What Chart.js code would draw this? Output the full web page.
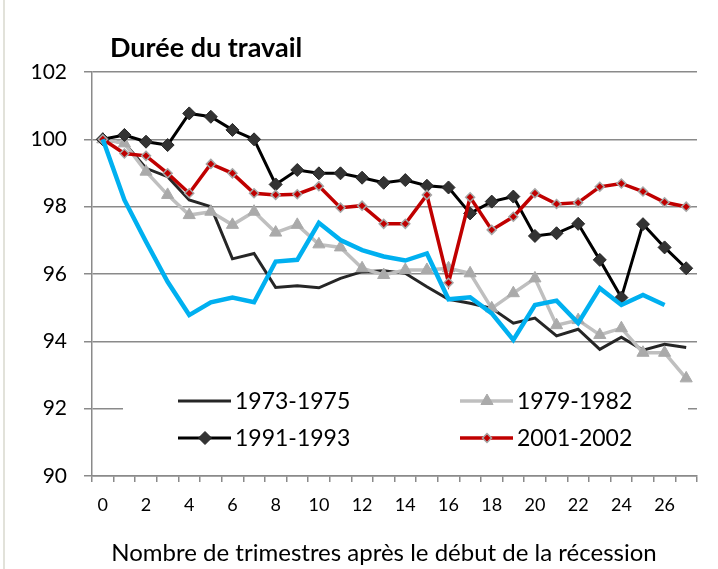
<!DOCTYPE html>
<html>
<head>
<meta charset="utf-8">
<script src="https://cdn.jsdelivr.net/npm/chart.js@4.4.1/dist/chart.umd.min.js"></script>
<style>
  body { margin: 0; background: #fff; }
  #wrap { width: 718px; height: 569px; position: relative; }
</style>
</head>
<body>
<div id="wrap"><canvas id="chart" width="718" height="569"></canvas></div>
<script>
// trimestres depuis le debut de la recession
const quarters = [0, 1, 2, 3, 4, 5, 6, 7, 8, 9, 10, 11, 12, 13, 14, 15, 16, 17, 18, 19, 20, 21, 22, 23, 24, 25, 26, 27]

// duree du travail, indice 100 au debut de chaque recession
const r1973 = [100, 99.89, 99.14, 98.89, 98.2, 98.0, 96.45, 96.61, 95.6, 95.65, 95.59, 95.87, 96.07, 96.1,
  96.02, 95.62, 95.25, 95.13, 94.98, 94.54, 94.69, 94.16, 94.36, 93.76, 94.12, 93.74, 93.91, 93.82]
const r1979 = [100, 99.88, 99.04, 98.35, 97.75, 97.85, 97.46, 97.85, 97.23, 97.46, 96.88, 96.79, 96.17, 95.97,
  96.12, 96.12, 96.17, 96.02, 94.98, 95.43, 95.87, 94.48, 94.63, 94.19, 94.39, 93.66, 93.66, 92.9]
const r1991 = [100, 100.13, 99.93, 99.83, 100.77, 100.67, 100.28, 100.0, 98.66, 99.09, 98.99, 98.99, 98.86, 98.71,
  98.79, 98.62, 98.57, 97.8, 98.15, 98.3, 97.13, 97.21, 97.49, 96.42, 95.3, 97.48, 96.79, 96.17]
const r2001 = [100, 99.58, 99.51, 98.99, 98.4, 99.27, 98.99, 98.4, 98.35, 98.37, 98.61, 97.97, 98.03, 97.49,
  97.49, 98.35, 95.74, 98.28, 97.31, 97.7, 98.4, 98.08, 98.12, 98.59, 98.69, 98.45, 98.13, 98.0]
const r2008 = [100, 98.2, 96.96, 95.77, 94.78, 95.16, 95.3, 95.16, 96.37, 96.42, 97.52, 97.01, 96.71, 96.52,
  96.4, 96.61, 95.25, 95.31, 94.83, 94.04, 95.08, 95.21, 94.54, 95.58, 95.08, 95.38, 95.08, null]

const FONT = 'Lato'
const GRID = '#8a8a8a'

// titre, titre de l'axe x et legende en deux colonnes
const decorations = {
  id: 'decorations',
  beforeDraw(chart) {
    const ctx = chart.ctx
    ctx.save()
    ctx.strokeStyle = '#e2e2da'
    ctx.lineWidth = 2
    ctx.beginPath()
    ctx.moveTo(4, 0)
    ctx.lineTo(4, 569)
    ctx.stroke()
    ctx.restore()
  },
  afterDatasetsDraw(chart) {
    const ctx = chart.ctx
    ctx.save()
    ctx.fillStyle = '#000'
    ctx.textBaseline = 'middle'
    ctx.font = 'bold 27px ' + FONT
    ctx.fillText('Durée du travail', 110, 48)

    ctx.font = '24px ' + FONT
    ctx.textAlign = 'center'
    ctx.fillText('Nombre de trimestres après le début de la récession', 384, 553)
    ctx.textAlign = 'left'

    ctx.fillStyle = '#fff'
    ctx.fillRect(123, 388, 565, 66)

    const slots = [[178, 401], [460, 401], [178, 438], [460, 438]]
    ctx.font = '23px ' + FONT
    slots.forEach(([x, y], i) => {
      const ds = chart.data.datasets[i]
      ctx.strokeStyle = ds.borderColor
      ctx.lineWidth = ds.borderWidth
      ctx.beginPath()
      ctx.moveTo(x, y)
      ctx.lineTo(x + 53, y)
      ctx.stroke()
      if (ds.pointRadius > 0) {
        ctx.fillStyle = ds.pointBackgroundColor
        ctx.strokeStyle = ds.pointBorderColor
        ctx.lineWidth = ds.pointBorderWidth
        Chart.helpers.drawPoint(ctx, { pointStyle: ds.pointStyle, radius: ds.pointRadius, rotation: 0, borderWidth: ds.pointBorderWidth }, x + 27, y)
      }
      ctx.fillStyle = '#000'
      ctx.fillText(ds.label, x + 57, y + 1)
    })
    ctx.restore()
  }
}

new Chart(document.getElementById('chart'), {
  type: 'line',
  data: {
    labels: quarters,
    datasets: [
      {
        label: '1973-1975', data: r1973, order: 4,
        borderColor: '#262626', borderWidth: 3, pointRadius: 0
      },
      {
        label: '1979-1982', data: r1979, order: 3,
        borderColor: '#bfbfbf', borderWidth: 3.5,
        pointStyle: 'triangle', pointRadius: 7,
        pointBackgroundColor: '#aaaaaa', pointBorderColor: '#aaaaaa', pointBorderWidth: 1
      },
      {
        label: '1991-1993', data: r1991, order: 2,
        borderColor: '#000000', borderWidth: 3,
        pointStyle: 'rectRot', pointRadius: 6.5,
        pointBackgroundColor: '#333333', pointBorderColor: '#262626', pointBorderWidth: 1
      },
      {
        label: '2001-2002', data: r2001, order: 1,
        borderColor: '#c00000', borderWidth: 3.5,
        pointStyle: 'rectRot', pointRadius: 4.5,
        pointBackgroundColor: '#c00000', pointBorderColor: '#a6a6a6', pointBorderWidth: 1.5
      },
      {
        label: '2008-2010', data: r2008, order: 0,
        borderColor: '#00b0f0', borderWidth: 4.5, pointRadius: 0
      }
    ]
  },
  options: {
    responsive: false,
    animation: false,
    layout: { padding: { top: 72, right: 21, left: 0, bottom: 0 } },
    plugins: {
      legend: { display: false },
      tooltip: { enabled: false }
    },
    elements: { line: { tension: 0 } },
    scales: {
      x: {
        offset: true,
        grid: { offset: true, drawOnChartArea: false, tickLength: 6, color: GRID, lineWidth: 1.5 },
        border: { color: GRID, width: 1.5 },
        ticks: {
          autoSkip: false, maxRotation: 0, padding: 12, color: '#000',
          font: { family: FONT, size: 18 },
          callback(v, i) { return i % 2 === 0 ? this.getLabelForValue(v) : '' }
        },
        afterFit(scale) { scale.height = 93 }
      },
      y: {
        min: 90, max: 102,
        ticks: { stepSize: 2, padding: 17, color: '#000', font: { family: FONT, size: 21 } },
        grid: { color: GRID, lineWidth: 1.5, tickLength: 8 },
        border: { color: GRID, width: 1.5 },
        afterFit(scale) { scale.width = 92 }
      }
    }
  },
  plugins: [decorations]
})
</script>
</body>
</html>
